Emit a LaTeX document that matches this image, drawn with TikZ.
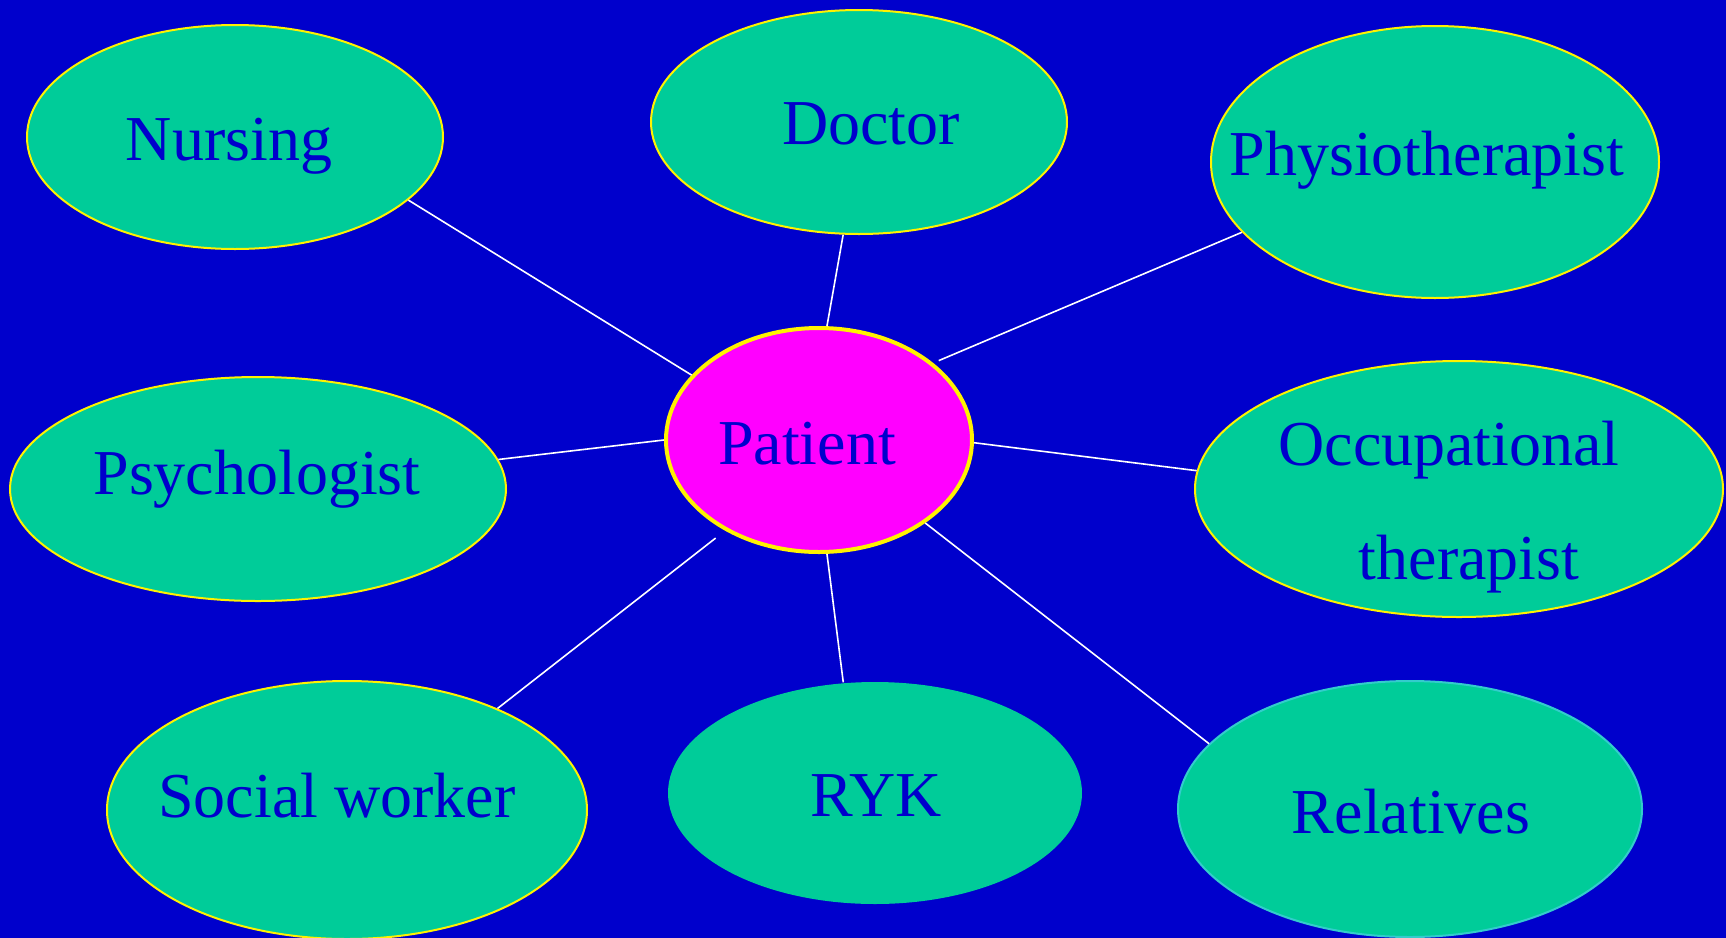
\documentclass[tikz,border=0pt]{standalone}
\usepackage{fontspec}
\setmainfont{Liberation Serif}
\usepackage{tikz}
\usetikzlibrary{shapes.geometric}
\definecolor{slidebg}{HTML}{0000CC}
\definecolor{rolefill}{HTML}{00CC99}
\definecolor{patfill}{HTML}{FF00FF}
\definecolor{relline}{HTML}{33CCCC}
\tikzset{role/.style={ellipse,fill=rolefill,draw=yellow,line width=1pt,inner sep=0pt},
    txt/.style={text=slidebg,font=\fontsize{32}{38}\selectfont,inner sep=0pt},
    link/.style={white,line width=0.8pt}
}

\begin{document}
\begin{tikzpicture}[x=0.5pt,y=-0.5pt]
           \fill[slidebg] (0,0) rectangle (1726,938);
           \useasboundingbox (0,0) rectangle (1726,938);
           % team around the patient
           \node[role,minimum width=208pt,minimum height=112pt] (nurse) at (235,137) {};
           \node[role,minimum width=208pt,minimum height=112pt] (doc) at (859,122) {};
           \node[role,minimum width=224pt,minimum height=136pt] (physio) at (1435,162) {};
           \node[role,minimum width=248pt,minimum height=112pt] (psych) at (258,489) {};
           \node[role,fill=patfill,line width=2pt,minimum width=153pt,minimum height=112pt] (pat) at (819,440) {};
           \node[role,minimum width=264pt,minimum height=128pt] (occ) at (1459,489) {};
           \node[role,minimum width=240pt,minimum height=129pt] (social) at (347,810) {};
           \node[role,draw=none,minimum width=207pt,minimum height=111pt] (ryk) at (875,793) {};
           \node[role,draw=relline,minimum width=232pt,minimum height=128pt] (rel) at (1410,809) {};
           \draw[link] (nurse.-20) -- (pat.153);
           \draw[link] (doc.262) -- (pat.86);
           \draw[link,shorten >=3pt] (physio.200) -- (pat.34);
           \draw[link] (psych.7) -- (pat.180);
           \draw[link] (pat.-1) -- (occ.176);
           \draw[link,shorten >=6pt] (social.34) -- (pat.224);
           \draw[link] (pat.274) -- (ryk.106);
           \draw[link] (pat.-38) -- (rel.162);
           % labels
           \node[txt] (nurse-t) at (229,146) {Nursing};
           \node[txt] (doc-t) at (871,124) {Doctor};
           \node[txt] (physio-t) at (1427,160) {Physiotherapist};
           \node[txt] (psych-t) at (257,479) {Psychologist};
           \node[txt] (pat-t) at (807,444) {Patient};
           \node[txt,align=center,font=\fontsize{32}{57.3}\selectfont] (occ-t) at (1449,507) {Occupational\\\hspace*{20pt}therapist};
           \node[txt] (social-t) at (337,796) {Social worker};
           \node[txt] (ryk-t) at (876,796) {RYK};
           \node[txt] (rel-t) at (1411,812) {Relatives};
         \end{tikzpicture}
\end{document}
